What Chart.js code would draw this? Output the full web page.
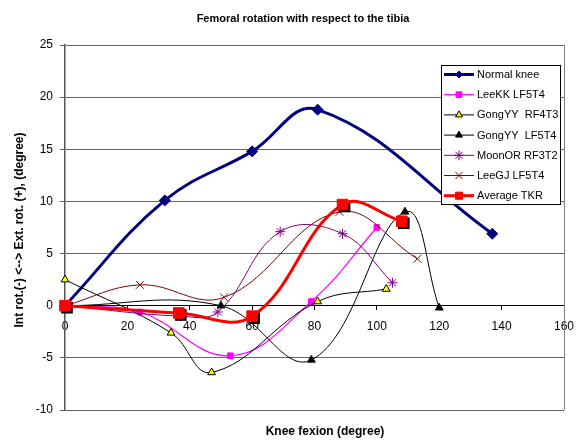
<!DOCTYPE html>
<html>
<head>
<meta charset="utf-8">
<script src="https://cdn.jsdelivr.net/npm/chart.js@4.4.0/dist/chart.umd.min.js"></script>
<style>
  html, body { margin: 0; padding: 0; background: #fff; }
  #wrap { width: 577px; height: 441px; }
</style>
</head>
<body>
<div id="wrap"><canvas id="chart" width="577" height="441"></canvas></div>
<script>
// values (knee flexion in degree, rotation in degree)
const normalKneeX = [0, 32, 60, 81, 137]
const normalKneeY = [0, 10.1, 14.8, 18.8, 6.9]

const leeKKX = [0, 24, 53, 79, 100]
const leeKKY = [0, -0.6, -4.8, 0.4, 7.5]

const gongRF4T3X = [0, 34, 47, 81, 103]
const gongRF4T3Y = [2.5, -2.6, -6.4, 0.4, 1.6]

const gongLF5T4X = [0, 50, 79, 109, 120]
const gongLF5T4Y = [0, 0, -5.2, 9.0, -0.2]

const moonORX = [0, 37, 49, 69, 89, 105]
const moonORY = [0, -1.0, -0.6, 7.1, 6.9, 2.2]

const leeGJX = [0, 24, 51, 88, 113]
const leeGJY = [0, 2.0, 0.8, 9.0, 4.5]

const averageX = [0, 36.5, 60, 89, 108]
const averageY = [0, -0.7, -1.0, 9.7, 8.1]

const seriesNames = ['Normal knee', 'LeeKK LF5T4', 'GongYY  RF4T3', 'GongYY  LF5T4', 'MoonOR RF3T2', 'LeeGJ LF5T4', 'Average TKR']

const xTicks = [0, 20, 40, 60, 80, 100, 120, 140, 160]
const yTicks = [-10, -5, 0, 5, 10, 15, 20, 25]

const FONT = 'Arial, "Liberation Sans", sans-serif'
Chart.defaults.font.family = FONT

function pts(xs, ys) {
  return xs.map((x, i) => ({ x: x, y: ys[i] }))
}

function series(i, xs, ys, style) {
  return Object.assign({
    label: seriesNames[i],
    data: pts(xs, ys),
    tension: 0.4,
    fill: false,
    clip: false,
    order: 10 - i,
    pointBorderWidth: 1
  }, style)
}

const datasets = [
  series(0, normalKneeX, normalKneeY, {
    borderColor: '#000080', borderWidth: 3,
    pointStyle: 'rectRot', pointRadius: 5.5, legendRadius: 3.5,
    pointBackgroundColor: '#000080', pointBorderColor: '#000080'
  }),
  series(1, leeKKX, leeKKY, {
    borderColor: '#FF00FF', borderWidth: 1.2,
    pointStyle: 'rect', pointRadius: 4, legendRadius: 4,
    pointBackgroundColor: '#FF00FF', pointBorderColor: '#FF00FF'
  }),
  series(2, gongRF4T3X, gongRF4T3Y, {
    borderColor: '#000000', borderWidth: 1,
    pointStyle: 'triangle', pointRadius: 4.5, legendRadius: 4,
    pointBackgroundColor: '#FFFF00', pointBorderColor: '#000000'
  }),
  series(3, gongLF5T4X, gongLF5T4Y, {
    borderColor: '#000000', borderWidth: 1,
    pointStyle: 'triangle', pointRadius: 4.5, legendRadius: 4,
    pointBackgroundColor: '#000000', pointBorderColor: '#000000'
  }),
  series(4, moonORX, moonORY, {
    borderColor: '#800080', borderWidth: 1,
    pointStyle: 'star', pointRadius: 5, legendRadius: 5,
    pointBackgroundColor: '#800080', pointBorderColor: '#800080'
  }),
  series(5, leeGJX, leeGJY, {
    borderColor: '#800000', borderWidth: 1,
    pointStyle: 'crossRot', pointRadius: 5.5, legendRadius: 5,
    pointBackgroundColor: '#800000', pointBorderColor: '#800000'
  }),
  series(6, averageX, averageY, {
    borderColor: '#FF0000', borderWidth: 3,
    pointStyle: 'rect', pointRadius: 7.5, legendRadius: 5,
    pointBackgroundColor: '#FF0000', pointBorderColor: '#FF0000'
  })
]

// dark drop shadow under the Average TKR squares
const markerShadow = {
  id: 'markerShadow',
  beforeDatasetDraw(chart, args) {
    if (args.index !== 6) return
    const ctx = chart.ctx
    const s = datasets[6].pointRadius * Math.SQRT1_2 + 0.5
    ctx.save()
    ctx.fillStyle = '#000'
    args.meta.data.forEach(p => {
      ctx.fillRect(p.x - s + 2, p.y - s + 2, 2 * s, 2 * s)
    })
    ctx.restore()
  }
}

// plot area frame on the right side
const plotFrame = {
  id: 'plotFrame',
  beforeDatasetsDraw(chart) {
    const a = chart.chartArea
    const ctx = chart.ctx
    ctx.save()
    ctx.strokeStyle = '#808080'
    ctx.lineWidth = 1
    ctx.beginPath()
    ctx.moveTo(Math.round(a.right) + 0.5, a.top)
    ctx.lineTo(Math.round(a.right) + 0.5, a.bottom)
    ctx.stroke()
    ctx.restore()
  }
}

// chart title and axis titles
const titles = {
  id: 'titles',
  afterDraw(chart) {
    const ctx = chart.ctx
    ctx.save()
    ctx.fillStyle = '#000'
    ctx.textAlign = 'center'
    ctx.textBaseline = 'middle'
    ctx.font = 'bold 11px ' + FONT
    ctx.fillText('Femoral rotation with respect to the tibia', 303, 19)
    ctx.font = 'bold 12px ' + FONT
    ctx.fillText('Knee fexion (degree)', 325, 432)
    ctx.translate(20, 230)
    ctx.rotate(-Math.PI / 2)
    ctx.fillText('Int rot.(-) <--> Ext. rot. (+), (degree)', 0, 0)
    ctx.restore()
  }
}

// legend box drawn over the plot, like the original
const legendBox = {
  id: 'legendBox',
  afterDraw(chart) {
    const ctx = chart.ctx
    const left = 441, top = 65, w = 119, h = 139
    ctx.save()
    ctx.fillStyle = '#fff'
    ctx.fillRect(left, top, w, h)
    ctx.strokeStyle = '#000'
    ctx.lineWidth = 1
    ctx.strokeRect(left + 0.5, top + 0.5, w, h)
    ctx.font = '11px ' + FONT
    ctx.textBaseline = 'middle'
    datasets.forEach((ds, i) => {
      const y = 74.5 + i * 20.2
      ctx.strokeStyle = ds.borderColor
      ctx.lineWidth = ds.borderWidth
      ctx.beginPath()
      ctx.moveTo(444, y)
      ctx.lineTo(474, y)
      ctx.stroke()
      ctx.fillStyle = ds.pointBackgroundColor
      ctx.strokeStyle = ds.pointBorderColor
      ctx.lineWidth = 1
      Chart.helpers.drawPoint(ctx, {
        pointStyle: ds.pointStyle, radius: ds.legendRadius, borderWidth: 1, rotation: 0
      }, 459, y)
      ctx.fillStyle = '#000'
      ctx.fillText(ds.label, 477, y + 0.5)
    })
    ctx.restore()
  }
}

new Chart(document.getElementById('chart'), {
  type: 'line',
  data: { datasets: datasets },
  options: {
    responsive: false,
    animation: false,
    devicePixelRatio: 1,
    layout: { padding: { left: 0, right: 13, top: 45, bottom: 31 } },
    plugins: {
      legend: { display: false },
      title: { display: false },
      tooltip: { enabled: false }
    },
    scales: {
      x: {
        type: 'linear',
        position: { y: 0 },
        min: 0,
        max: 160,
        afterBuildTicks: axis => { axis.ticks = xTicks.map(v => ({ value: v })) },
        afterFit: axis => {
          axis.height = 0
          axis.paddingLeft = 0
          axis.paddingRight = 0
        },
        grid: { display: true, drawOnChartArea: false, drawTicks: true, tickLength: 4, color: '#000' },
        border: { display: true, color: '#000', width: 1 },
        ticks: { color: '#000', font: { size: 12 }, padding: 10, maxRotation: 0, autoSkip: false }
      },
      y: {
        type: 'linear',
        position: 'left',
        min: -10,
        max: 25,
        afterBuildTicks: axis => { axis.ticks = yTicks.map(v => ({ value: v })) },
        afterFit: axis => {
          axis.width = 65
          axis.paddingTop = 0
          axis.paddingBottom = 0
        },
        grid: { color: '#666', lineWidth: 1, drawTicks: true, tickLength: 5 },
        border: { display: true, color: '#555', width: 1.5 },
        ticks: { color: '#000', font: { size: 12 }, padding: 7 }
      }
    }
  },
  plugins: [markerShadow, plotFrame, titles, legendBox]
})
</script>
</body>
</html>
